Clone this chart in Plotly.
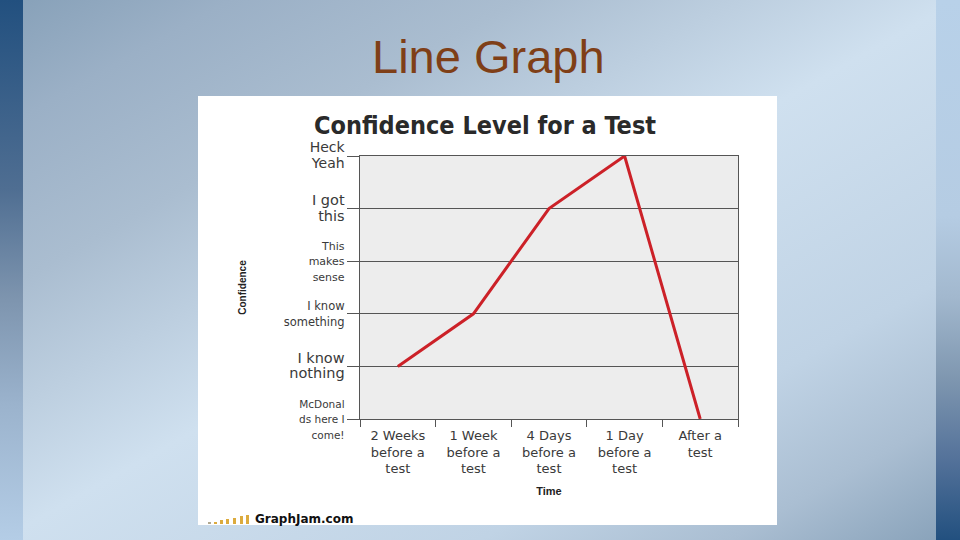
import base64
import plotly.graph_objects as go

# ---- data ----
time_labels = [
    "2 Weeks<br>before a<br>test",
    "1 Week<br>before a<br>test",
    "4 Days<br>before a<br>test",
    "1 Day<br>before a<br>test",
    "After a<br>test",
]
confidence = [1, 2, 4, 5, 0]
level_values = [0, 1, 2, 3, 4, 5]
level_labels = [
    '<span style="font-size:10.5px">McDonal<br>ds here I<br>come!</span>',
    '<span style="font-size:14.5px">I know<br>nothing</span>',
    '<span style="font-size:11.5px">I know<br>something</span>',
    '<span style="font-size:11px">This<br>makes<br>sense</span>',
    '<span style="font-size:14.5px">I got<br>this</span>',
    '<span style="font-size:14px">Heck<br>Yeah</span>',
]
chart_title = "Confidence Level for a Test"
slide_title = "Line Graph"
credit = "GraphJam.com"
logo_heights = [2, 2, 4, 5, 6, 8, 9]

W, H = 960, 540
def px(x):
    return x / W
def py(y):
    return 1 - y / H

# ---- slide background (gradient svg) ----
svg = f'''<svg xmlns="http://www.w3.org/2000/svg" width="{W}" height="{H}" viewBox="0 0 {W} {H}" preserveAspectRatio="none">
<defs>
<linearGradient id="m" x1="0" y1="0" x2="1" y2="1">
<stop offset="0" stop-color="#86a0b8"/>
<stop offset="0.12" stop-color="#9bb0c6"/>
<stop offset="0.27" stop-color="#aabdd0"/>
<stop offset="0.5" stop-color="#cfe0ef"/>
<stop offset="0.75" stop-color="#c0d3e5"/>
<stop offset="0.88" stop-color="#aabed2"/>
<stop offset="1" stop-color="#86a0b8"/>
</linearGradient>
<linearGradient id="l" x1="0" y1="0" x2="0" y2="1">
<stop offset="0" stop-color="#22507f"/>
<stop offset="0.35" stop-color="#4f6e92"/>
<stop offset="0.55" stop-color="#7d94ae"/>
<stop offset="0.75" stop-color="#9bb3cd"/>
<stop offset="1" stop-color="#b4cde6"/>
</linearGradient>
<linearGradient id="r" x1="0" y1="0" x2="0" y2="1">
<stop offset="0" stop-color="#b8d1e9"/>
<stop offset="0.4" stop-color="#b5cce3"/>
<stop offset="0.55" stop-color="#a2b8ce"/>
<stop offset="0.7" stop-color="#7f97b0"/>
<stop offset="0.85" stop-color="#54729a"/>
<stop offset="1" stop-color="#22507f"/>
</linearGradient>
</defs>
<rect x="0" y="0" width="{W}" height="{H}" fill="url(#m)"/>
<rect x="0" y="0" width="23" height="{H}" fill="url(#l)"/>
<rect x="936" y="0" width="24" height="{H}" fill="url(#r)"/>
</svg>'''
bg_src = "data:image/svg+xml;base64," + base64.b64encode(svg.encode()).decode()

fig = go.Figure()
fig.add_trace(go.Scatter(
    x=time_labels, y=confidence, mode="lines",
    line=dict(color="#cc2128", width=3),
    cliponaxis=False, showlegend=False, hoverinfo="skip",
))

shapes = [
    dict(type="rect", xref="paper", yref="paper", x0=px(198), x1=px(777), y0=py(525), y1=py(96),
         fillcolor="white", line=dict(width=0), layer="below"),
    dict(type="rect", xref="x domain", yref="y domain", x0=0, x1=1, y0=0, y1=1,
         fillcolor="#ededed", line=dict(width=0), layer="below"),
]
bar_x = [208, 214, 220, 226, 233, 240, 246]
for i, h in enumerate(logo_heights):
    shapes.append(dict(type="rect", xref="paper", yref="paper",
                       x0=px(bar_x[i]), x1=px(bar_x[i] + 3), y0=py(524), y1=py(524 - h),
                       fillcolor="#b0a890" if i == 0 else "#dcab3e", line=dict(width=0), layer="above"))

axis_col = "#555555"
fig.update_layout(
    template=None,
    width=W, height=H, autosize=False,
    margin=dict(l=0, r=0, t=0, b=0, pad=0),
    paper_bgcolor="#b0c4d8", plot_bgcolor="rgba(0,0,0,0)",
    images=[dict(source=bg_src, xref="paper", yref="paper", x=0, y=1, sizex=1, sizey=1,
                 xanchor="left", yanchor="top", sizing="stretch", layer="below")],
    shapes=shapes,
    title=dict(text=chart_title, x=px(485), y=py(125), xanchor="center", yanchor="middle",
               xref="paper", yref="paper", automargin=False,
               font=dict(family="DejaVu Sans Condensed, DejaVu Sans", size=25, color="#2a2a2a", weight="bold")),
    annotations=[
        dict(text=slide_title, x=px(488), y=py(57), xref="paper", yref="paper", showarrow=False,
             xanchor="center", yanchor="middle",
             font=dict(family="Liberation Sans, Arial", size=47, color="#7f3f17")),
        dict(text="<b>" + credit + "</b>", x=px(253), y=py(519), xref="paper", yref="paper", showarrow=False,
             xanchor="left", yanchor="middle",
             font=dict(family="DejaVu Sans", size=12, color="#111111")),
    ],
    xaxis=dict(
        domain=[px(360), px(738)], type="category", range=[-0.5, 4.5], automargin=False,
        tickson="boundaries", ticks="outside", ticklen=7, tickcolor=axis_col,
        showline=True, linecolor=axis_col, linewidth=1, mirror=True,
        showgrid=False, zeroline=False, ticklabelstandoff=4,
        tickfont=dict(family="DejaVu Sans", size=13, color="#3a3a3a"),
        title=dict(text="<b>Time</b>", standoff=11,
                   font=dict(family="Liberation Sans, Arial", size=11, color="#222222")),
    ),
    yaxis=dict(
        domain=[py(419), py(156)], range=[0, 5], automargin=False,
        tickmode="array", tickvals=level_values, ticktext=level_labels,
        ticks="outside", ticklen=12, tickcolor=axis_col,
        showline=True, linecolor=axis_col, linewidth=1, mirror=True,
        showgrid=True, gridcolor=axis_col, gridwidth=1, zeroline=False,
        tickfont=dict(family="DejaVu Sans", size=12, color="#3a3a3a"),
        title=dict(text="<b>Confidence</b>", standoff=35,
                   font=dict(family="Liberation Sans, Arial", size=10, color="#222222")),
    ),
)

fig.write_html(
    "out.html",
    config={"displayModeBar": False},
    post_script="document.body.style.margin='0';document.body.style.overflow='hidden';",
)
